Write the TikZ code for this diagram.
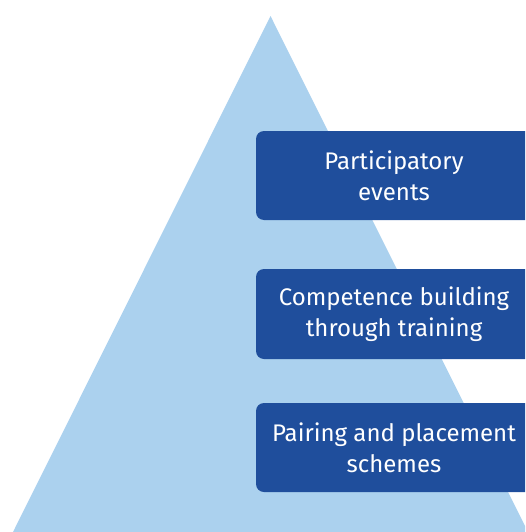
\documentclass[tikz,border=0pt]{standalone}
\usepackage{fontspec}
\setmainfont{Fira Sans}
\definecolor{tri}{HTML}{ABD1EE}
\definecolor{boxblue}{HTML}{1F4E9C}
\begin{document}
\begin{tikzpicture}[x=1pt,y=-1pt,
  tier/.style={fill=boxblue, rounded corners=8pt},
  tiertext/.style={text=white, font=\fontsize{24}{31}\selectfont, align=center}]
\useasboundingbox (0,0) rectangle (525,532);
\clip (0,0) rectangle (525,532);
\fill[tri] (270.5,16) coordinate (apex) -- (13,532) -- (528,532) -- cycle;
\fill[tier] (256,131) rectangle (540,220);
\fill[tier] (256,269) rectangle (540,359);
\fill[tier] (256,403) rectangle (540,492);
\node[tiertext] (t1) at (394,175.5) {Participatory\\events};
\node[tiertext] (t2) at (394,314) {Competence building\\through training};
\node[tiertext] (t3) at (394,447.5) {Pairing and placement\\schemes};
\end{tikzpicture}
\end{document}
